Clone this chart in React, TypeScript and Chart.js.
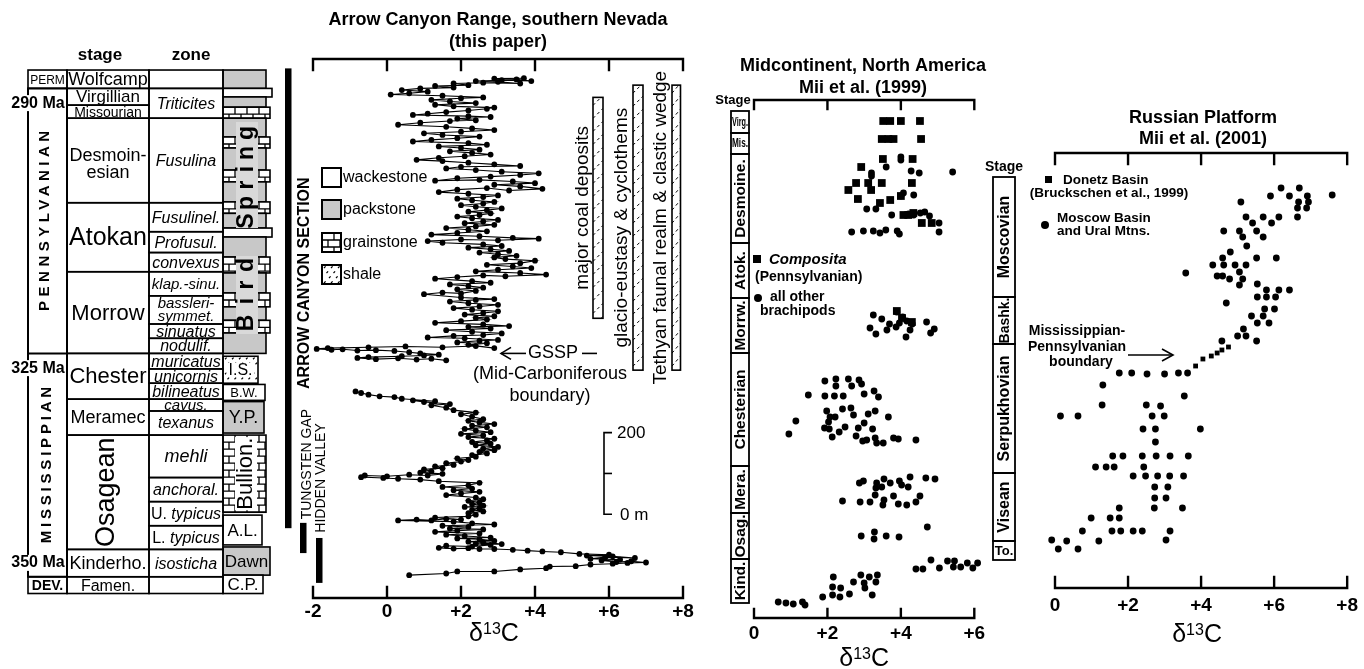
import React, { useEffect, useRef } from 'react';
import { Chart, registerables } from 'chart.js';

Chart.register(...registerables);

const FONT = '"Liberation Sans", Arial, Helvetica, sans-serif';
const GRAY = '#c8c8c8';
const LIGHT = '#d9d9d9';

/* ===== Arrow Canyon Range (δ13C ‰, stratigraphic height m) ===== */
const arrowTitle = ['Arrow Canyon Range, southern Nevada', '(this paper)'];
const arrowTicks = [-2, 0, 2, 4, 6, 8];
const mississippianSamples = [
  [0.6, 36], [1.6, 40], [1.9, 45], [2.9, 45], [3.6, 50], [4.3, 53], [4.4, 57], [5.1, 58], [5.5, 62], [6.1, 64],
  [6.5, 66], [7.0, 67], [6.6, 70], [6.2, 68], [5.8, 72], [6.3, 74], [5.5, 76], [5.9, 80], [6.7, 78], [6.1, 82],
  [5.4, 84], [6.0, 86], [5.2, 88], [4.7, 92], [4.2, 94], [3.8, 96], [3.4, 98], [2.9, 100], [2.5, 100], [2.2, 102],
  [1.8, 101], [1.4, 103], [1.6, 108], [2.3, 106], [2.8, 110], [2.4, 113], [3.1, 112], [2.6, 116], [2.2, 118], [2.9, 120],
  [2.5, 124], [1.9, 126], [2.8, 128], [2.1, 132], [1.6, 135], [2.5, 138], [1.3, 142], [1.9, 145], [2.6, 148], [1.7, 150],
  [2.2, 154], [1.5, 157], [2.9, 160], [2.3, 163], [1.8, 167], [0.3, 170], [0.8, 172], [1.2, 170], [1.6, 174], [2.0, 172],
  [1.3, 177], [2.2, 180], [2.4, 184], [2.2, 188], [2.6, 192], [2.3, 196], [2.5, 200], [2.1, 203], [2.6, 206], [2.3, 210],
  [2.5, 214], [2.2, 218], [2.6, 222], [2.4, 226], [1.6, 232], [2.0, 236], [2.5, 240], [1.8, 244], [2.3, 248], [1.5, 252],
  [2.2, 256], [2.5, 262], [1.4, 266], [0.9, 270], [0.3, 272], [-0.1, 274], [-0.7, 276], [-0.6, 280], [0.0, 278], [0.6, 282],
  [1.1, 280], [1.5, 284], [0.9, 287], [1.2, 290], [1.0, 295], [1.5, 298], [1.3, 302], [1.8, 306], [1.6, 310], [2.0, 314],
  [2.2, 318], [1.9, 322], [2.4, 326], [2.3, 330], [2.7, 334], [2.5, 338], [2.9, 342], [2.6, 346], [3.0, 350], [2.4, 354],
  [2.8, 358], [2.3, 362], [2.7, 366], [2.9, 370], [2.2, 374], [2.6, 378], [2.0, 382], [2.8, 386], [2.4, 390], [2.1, 394],
  [2.7, 398], [2.3, 402], [2.9, 406], [2.5, 410], [2.2, 414], [2.6, 418], [2.3, 424], [2.0, 430], [2.4, 434], [1.8, 440],
  [1.6, 446], [1.2, 452], [1.7, 455], [1.0, 460], [0.7, 464], [1.3, 462], [0.4, 468], [0.2, 472], [-0.2, 474], [-0.5, 478],
  [-0.7, 482], [-0.85, 486],
];
const pennsylvanianSamples = [
  [1.6, 562], [1.2, 566], [0.8, 564], [0.3, 567], [-0.3, 565], [-0.8, 568], [-0.5, 570], [0.4, 572], [1.0, 574], [1.4, 576],
  [0.9, 579], [0.6, 582], [0.2, 585], [-0.3, 587], [-0.8, 586], [-1.2, 589], [-1.5, 588], [-1.9, 590], [-1.6, 592], [-0.5, 594],
  [0.5, 596], [1.5, 594], [2.4, 597], [2.9, 592], [2.2, 600], [2.7, 604], [1.9, 606], [2.5, 610], [3.0, 612], [2.1, 616],
  [1.1, 618], [1.8, 622], [2.6, 624], [3.1, 628], [2.3, 632], [1.6, 636], [2.8, 640], [2.2, 644], [3.3, 646], [2.6, 650],
  [1.3, 654], [2.0, 658], [2.7, 662], [2.4, 666], [2.9, 670], [2.1, 674], [2.6, 678], [3.0, 682], [2.3, 686], [1.8, 690],
  [2.5, 694], [3.0, 698], [2.2, 702], [1.7, 706], [2.4, 710], [2.9, 712], [2.0, 716], [1.0, 724], [1.5, 728], [2.0, 726],
  [2.4, 732], [1.9, 736], [2.6, 740], [2.2, 744], [1.7, 748], [2.8, 752], [2.3, 756], [1.3, 762], [1.9, 766], [2.6, 770],
  [3.2, 768], [4.3, 772], [3.6, 776], [2.4, 780], [3.0, 784], [3.9, 788], [3.4, 792], [2.7, 796], [3.6, 800], [4.0, 806],
  [3.2, 810], [2.9, 814], [3.5, 818], [3.0, 822], [2.5, 826], [3.3, 830], [2.8, 834], [2.2, 838], [3.1, 842], [2.6, 846],
  [1.5, 850], [1.1, 854], [2.0, 858], [3.0, 856], [4.1, 860], [3.4, 862], [2.5, 866], [1.2, 870], [1.9, 874], [2.7, 878],
  [2.2, 882], [1.6, 886], [2.4, 890], [2.9, 894], [2.1, 898], [2.6, 902], [3.0, 906], [2.3, 910], [1.9, 914], [2.5, 918],
  [2.8, 922], [2.2, 926], [2.7, 930], [3.1, 934], [2.4, 938], [2.0, 942], [2.6, 946], [2.9, 950], [2.3, 954], [1.9, 958],
  [2.6, 962], [3.0, 966], [2.2, 970], [1.4, 974], [1.9, 980], [2.7, 984], [3.3, 978], [4.2, 982], [3.6, 988], [2.9, 992],
  [4.0, 996], [3.4, 1000], [2.5, 1004], [1.3, 1002], [1.9, 1008], [2.8, 1012], [3.6, 1016], [4.1, 1020], [3.1, 1024], [2.4, 1028],
  [1.6, 1032], [2.0, 1036], [3.6, 1038], [2.9, 1042], [2.2, 1046], [1.5, 1050], [0.8, 1053], [1.4, 1058], [2.1, 1062], [2.8, 1066],
  [2.3, 1070], [1.7, 1074], [2.5, 1078], [2.0, 1082], [1.4, 1086], [2.7, 1090], [2.2, 1094], [0.7, 1098], [1.2, 1102], [1.9, 1106],
  [2.5, 1110], [1.5, 1114], [1.0, 1118], [2.0, 1122], [2.9, 1126], [2.3, 1130], [1.6, 1134], [0.3, 1139], [0.9, 1144], [1.7, 1148],
  [2.4, 1150], [1.9, 1154], [2.8, 1158], [2.2, 1160], [0.7, 1163], [1.1, 1166], [1.6, 1170], [2.2, 1174], [2.7, 1178], [2.9, 1181],
  [1.8, 1184], [1.3, 1188], [2.4, 1192], [1.7, 1196], [1.2, 1200], [2.0, 1204], [2.6, 1206], [1.5, 1210], [0.1, 1213], [0.6, 1216],
  [1.1, 1220], [0.4, 1224], [0.9, 1228], [1.8, 1230], [1.3, 1234], [2.2, 1236], [1.8, 1240], [2.6, 1242], [3.6, 1240], [3.0, 1244],
  [2.4, 1246], [3.1, 1248], [3.9, 1246], [3.5, 1250], [2.9, 1252], [3.7, 1253],
];

/* stratigraphic column (heights in m of the Arrow Canyon section) */
const periodNames = ['PERM', 'PENNSYLVANIAN', 'MISSISSIPPIAN', 'DEV.'];
const periodBounds = [1273, 1228, 579, 32, -9];
const ageLabels = ['290 Ma', '325 Ma', '350 Ma'];
const ageHeights = [1192, 543, 66];
const stageNames = [['Wolfcamp'], ['Virgillian'], ['Missourian'], ['Desmoin-', 'esian'], ['Atokan'], ['Morrow'], ['Chester'], ['Meramec'], ['Osagean'], ['Kinderho.'], ['Famen.']];
const stageBounds = [1273, 1228, 1187, 1155, 948, 779, 579, 467, 379, 99, 32, -9];
const zoneNames = [[''], ['Triticites'], ['Fusulina'], ['Fusulinel.'], ['Profusul.'], ['convexus'], ['klap.-sinu.'], ['bassleri-', 'symmet.'], ['sinuatus'], ['nodulif.'], ['muricatus'], ['unicornis'], ['bilineatus'], ['cavus.'], ['texanus'], ['mehli'], ['anchoral.'], ['U. typicus'], ['L. typicus'], ['isosticha'], ['']];
const zoneBounds = [1273, 1228, 1155, 948, 877, 826, 779, 720, 651, 616, 579, 541, 506, 467, 438, 379, 275, 216, 157, 99, 32, -9];
const lithologyTypes = ['p', 'w', 'p', 'g', 'p', 'g', 'p', 'g', 'p', 'g', 'p', 'w', 'p', 'g', 'p', 'g', 'p', 'g', 'p'];
const lithologyBounds = [1273, 1228, 1207, 1182, 1155, 1109, 1082, 1028, 999, 950, 922, 886, 864, 815, 776, 727, 693, 660, 629, 579];
const formationNames = ['I.S.', 'B.W.', 'Y.P.', 'Bullion.', 'A.L.', 'Dawn', 'C.P.'];
const formationTops = [572, 503, 461, 379, 183, 105, 36];
const formationBases = [506, 464, 384, 190, 110, 36, -9];
const formationLithology = ['s', 'w', 'p', 'g', 'w', 'p', 'w'];
const sectionNames = ['ARROW CANYON SECTION', 'TUNGSTEN GAP', 'HIDDEN VALLEY'];
const sectionTops = [1277, 164, 127];
const sectionBases = [151, 90, 17];
const realmNames = ['major coal deposits', 'glacio-eustasy & cyclothems', 'Tethyan faunal realm & clastic wedge'];
const realmTops = [1206, 1236, 1236];
const realmBases = [665, 538, 538];
const lithologyLegend = ['wackestone', 'packstone', 'grainstone', 'shale'];
const scaleBarLabels = ['0 m', '200'];
const scaleBarLength = 200;

/* ===== Midcontinent (δ13C ‰, relative stratigraphic position) ===== */
const midTitle = ['Midcontinent, North America', 'Mii et al. (1999)'];
const midTicks = [0, 2, 4, 6];
const midStageNames = ['Virg.', 'Mis.', 'Desmoine.', 'Atok.', 'Morrw.', 'Chesterian', 'Mera.', 'Osag.', 'Kind.'];
const midStageBounds = [507, 485, 464, 375, 320, 265, 152, 105, 59, 15];
const midLegend = ['Composita', '(Pennsylvanian)', 'all other', 'brachipods'];
const midComposita = [
  [3.52, 497], [3.71, 497], [4.0, 497], [4.52, 497], [3.48, 479], [3.66, 479], [3.8, 479], [4.55, 479],
  [3.51, 459], [4.32, 459], [2.92, 451], [2.78, 435], [3.11, 435], [3.48, 435], [4.3, 435], [2.57, 428],
  [3.19, 428], [2.83, 419], [3.71, 418], [3.43, 415], [4.0, 422], [4.07, 403], [4.2, 403], [4.34, 405],
  [4.57, 395], [4.84, 395], [3.89, 307], [4.03, 300], [4.3, 296],
];
const midOtherBrachiopods = [
  [3.6, 451], [4.0, 461], [4.0, 458], [3.2, 445], [3.2, 442], [4.28, 447], [4.5, 445], [5.41, 446],
  [4.07, 425], [4.0, 422], [4.35, 423], [3.07, 409], [3.32, 409], [3.75, 403], [4.21, 404], [4.35, 403],
  [4.53, 405], [4.65, 406], [4.78, 402], [5.04, 395], [5.04, 386], [2.66, 386], [2.98, 387], [3.25, 387],
  [3.43, 385], [3.59, 388], [3.9, 387], [3.96, 384],
  [3.25, 303], [3.48, 299], [3.69, 294], [3.89, 306], [4.05, 301], [4.16, 297], [4.31, 294], [4.25, 288],
  [4.7, 296], [4.91, 289], [4.81, 285], [3.16, 290], [3.32, 284], [3.62, 288], [3.87, 291], [4.14, 281], [3.96, 295],
  [1.93, 237], [2.23, 239], [2.23, 232], [2.57, 239], [2.86, 238], [2.93, 234], [2.66, 232],
  [1.48, 223], [1.93, 222], [2.19, 222], [2.43, 222], [3.0, 224], [3.27, 227], [3.39, 221],
  [1.98, 207], [2.07, 201], [2.21, 201], [2.41, 209], [2.64, 210], [2.71, 203], [3.11, 204], [3.3, 207], [3.66, 201],
  [1.14, 197], [2.03, 196], [3.0, 195], [0.95, 184], [1.92, 190], [2.05, 189], [2.32, 186], [2.48, 191], [2.84, 190], [3.23, 189],
  [2.13, 181], [2.78, 182], [2.96, 177], [3.07, 178], [3.3, 180], [3.34, 175], [3.52, 175], [3.8, 180], [3.93, 179], [4.41, 178],
  [2.87, 135], [2.98, 137], [3.34, 135], [3.54, 139], [3.32, 130], [3.48, 131], [3.71, 135], [3.96, 137], [4.02, 133],
  [4.2, 131], [4.25, 141], [4.68, 140], [4.93, 139], [3.3, 123], [3.8, 122], [4.52, 122],
  [2.41, 117], [2.89, 116], [3.16, 116], [3.51, 113], [3.54, 118], [3.93, 114], [4.16, 113], [4.41, 116],
  [2.92, 82], [3.28, 86], [3.27, 79], [3.6, 82], [3.95, 81], [4.72, 91],
  [4.41, 49], [4.6, 49], [4.82, 58], [5.05, 50], [5.27, 57], [5.46, 57], [5.43, 51], [5.63, 51], [5.81, 55], [5.96, 50], [6.09, 55],
  [2.91, 43], [3.14, 41], [3.36, 43], [2.71, 36], [3.0, 35], [3.32, 36], [2.16, 41], [2.14, 31], [2.36, 30], [3.02, 30],
  [3.22, 23], [2.6, 24], [2.14, 23], [2.34, 21], [1.87, 21], [1.32, 16], [1.07, 14], [0.87, 15], [0.66, 16], [1.39, 13],
];

/* ===== Russian Platform (δ13C ‰, relative stratigraphic position) ===== */
const rusTitle = ['Russian Platform', 'Mii et al. (2001)'];
const rusTicks = [0, 2, 4, 6, 8];
const rusStageNames = ['Moscovian', 'Bashk.', 'Serpukhovian', 'Visean', 'To.'];
const rusStageBounds = [411, 291, 244, 115, 47, 28];
const rusLegend = ['Donetz Basin', '(Bruckschen et al., 1999)', 'Moscow Basin', 'and Ural Mtns.'];
const rusBoundaryNote = ['Mississippian-', 'Pennsylvanian', 'boundary'];
const rusDonetz = [[4.75, 241], [4.57, 238], [4.44, 235], [4.28, 232], [4.05, 229], [3.85, 222]];
const rusMoscowUral = [
  [6.19, 400], [6.69, 400], [5.9, 392], [6.42, 392], [7.59, 393], [6.91, 392], [6.94, 386], [6.89, 380], [6.67, 386],
  [6.64, 380], [6.64, 371], [5.09, 386], [5.23, 371], [5.7, 371], [6.13, 371], [5.41, 365], [5.93, 365],
  [4.62, 357], [5.05, 357], [5.52, 357], [5.14, 351], [5.7, 351], [5.25, 342], [4.8, 336], [4.59, 330], [5.52, 330], [6.06, 330],
  [4.32, 323], [4.62, 323], [4.93, 323], [5.23, 323], [5.05, 316], [4.44, 312], [4.59, 312], [4.78, 309], [5.14, 309],
  [5.05, 303], [3.58, 315], [5.54, 304], [5.79, 298], [6.13, 298], [6.42, 298], [5.54, 291], [5.79, 291], [6.04, 291],
  [4.69, 285], [5.74, 279], [6.01, 279], [5.38, 272], [5.7, 272], [5.54, 265], [5.86, 265], [5.16, 259], [5.0, 252],
  [5.23, 252], [5.52, 247], [4.57, 247],
  [1.76, 215], [2.1, 215], [2.52, 214], [3.0, 214], [3.38, 215], [3.63, 215], [1.31, 203], [3.54, 192], [1.29, 183],
  [2.5, 183], [2.89, 182], [-0.78, 172], [-0.33, 172], [0.15, 172], [0.63, 172], [2.66, 172], [2.99, 172],
  [2.41, 159], [2.75, 159], [3.98, 159], [2.75, 146], [-0.23, 132], [1.58, 132], [1.86, 132], [2.39, 132], [2.77, 132],
  [3.15, 132], [3.65, 132], [1.11, 121], [1.4, 121], [1.62, 121], [2.43, 121], [2.14, 112], [2.48, 112], [2.81, 112],
  [3.14, 112], [3.52, 112], [2.73, 101], [3.09, 101], [2.73, 90], [3.04, 90], [1.76, 80], [2.72, 80], [3.49, 80],
  [0.99, 70], [1.51, 70], [1.76, 70], [0.75, 57], [1.56, 57], [1.8, 57], [2.14, 57], [2.39, 57], [3.15, 57],
  [-0.09, 48], [0.32, 47], [1.2, 47], [3.04, 48], [-0.42, 39], [0.09, 39], [0.63, 39],
];

/* ================= drawing helpers ================= */
type TOpt = { size: number; weight?: string; style?: string; align?: CanvasTextAlign; rot?: number; spacing?: number; maxW?: number };
function label(ctx: CanvasRenderingContext2D, s: string, x: number, y: number, o: TOpt) {
  ctx.save();
  ctx.translate(x, y);
  if (o.rot) ctx.rotate(o.rot);
  ctx.font = `${o.style || 'normal'} ${o.weight || 'normal'} ${o.size}px ${FONT}`;
  (ctx as any).letterSpacing = `${o.spacing || 0}px`;
  const align = o.align || 'center';
  ctx.textAlign = align;
  ctx.textBaseline = 'middle';
  ctx.fillStyle = '#000';
  const dx = align === 'center' && o.spacing ? o.spacing / 2 : 0;
  if (o.maxW) ctx.fillText(s, dx, 0, o.maxW);
  else ctx.fillText(s, dx, 0);
  ctx.restore();
}
const UP = -Math.PI / 2;

function bricks(ctx: CanvasRenderingContext2D, x0: number, x1: number, t: number, b: number) {
  const rowH = 7, bw = 12;
  ctx.save();
  ctx.beginPath();
  ctx.rect(x0, t, x1 - x0, b - t);
  ctx.clip();
  ctx.beginPath();
  for (let yy = t + rowH; yy < b; yy += rowH) { ctx.moveTo(x0, yy); ctx.lineTo(x1, yy); }
  let row = 0;
  for (let yy = t; yy < b; yy += rowH, row++) {
    for (let xx = x0 + (row % 2 ? bw / 2 : bw); xx < x1; xx += bw) { ctx.moveTo(xx, yy); ctx.lineTo(xx, yy + rowH); }
  }
  ctx.lineWidth = 1.3;
  ctx.stroke();
  ctx.restore();
}
function speckle(ctx: CanvasRenderingContext2D, x0: number, x1: number, t: number, b: number) {
  ctx.save();
  ctx.beginPath();
  ctx.rect(x0, t, x1 - x0, b - t);
  ctx.clip();
  ctx.beginPath();
  let k = 0;
  for (let yy = t + 3; yy < b; yy += 5, k++) {
    for (let xx = x0 + 2 + (k % 3) * 2.5; xx < x1; xx += 7) { ctx.moveTo(xx, yy); ctx.lineTo(xx + 1.6, yy - 1.6); }
  }
  ctx.lineWidth = 1.2;
  ctx.stroke();
  ctx.restore();
}
function lithoBox(ctx: CanvasRenderingContext2D, type: string, x0: number, x1: number, t: number, b: number) {
  ctx.fillStyle = type === 'p' ? GRAY : '#fff';
  ctx.fillRect(x0, t, x1 - x0, b - t);
  if (type === 'g') bricks(ctx, x0, x1, t, b);
  if (type === 's') speckle(ctx, x0, x1, t, b);
  ctx.lineWidth = 1.6;
  ctx.strokeRect(x0, t, x1 - x0, b - t);
}
function hatchBox(ctx: CanvasRenderingContext2D, x: number, t: number, w: number, h: number) {
  ctx.fillStyle = '#fff';
  ctx.fillRect(x, t, w, h);
  ctx.save();
  ctx.beginPath();
  ctx.rect(x, t, w, h);
  ctx.clip();
  ctx.beginPath();
  ctx.setLineDash([3, 3]);
  for (let yy = t + 4; yy < t + h + 12; yy += 13) { ctx.moveTo(x, yy + 4); ctx.lineTo(x + w, yy - 6); }
  ctx.lineWidth = 1;
  ctx.stroke();
  ctx.restore();
  ctx.lineWidth = 1.6;
  ctx.strokeRect(x, t, w, h);
}
function seg(ctx: CanvasRenderingContext2D, pts: number[][]) {
  ctx.beginPath();
  ctx.moveTo(pts[0][0], pts[0][1]);
  for (let i = 1; i < pts.length; i++) ctx.lineTo(pts[i][0], pts[i][1]);
  ctx.stroke();
}
function deltaLabel(ctx: CanvasRenderingContext2D, cx: number, cy: number) {
  ctx.save();
  ctx.fillStyle = '#000';
  ctx.textBaseline = 'alphabetic';
  ctx.textAlign = 'left';
  const big = `normal normal 25px ${FONT}`, small = `normal normal 16px ${FONT}`;
  ctx.font = big;
  const wd = ctx.measureText('δ').width, wc = ctx.measureText('C').width;
  ctx.font = small;
  const w13 = ctx.measureText('13').width;
  let x = cx - (wd + w13 + wc) / 2;
  const base = cy + 9;
  ctx.font = big;
  ctx.fillText('δ', x, base);
  x += wd;
  ctx.font = small;
  ctx.fillText('13', x, base - 7);
  x += w13;
  ctx.font = big;
  ctx.fillText('C', x, base);
  ctx.restore();
}

const LITH_RIGHT: Record<string, number> = { w: 272, p: 266, g: 270, s: 258 };
const FORMATION_RIGHT = [258, 265, 264, 266, 262, 270, 263];
const FORMATION_FONT = [16, 13, 18, 22, 17, 17, 17];
const STAGE_FONT = [18, 17, 14, 18, 25, 22, 22, 18, 27, 18, 16];
const ZONE_FONT: Record<string, number> = { mehli: 18, 'klap.-sinu.': 15, 'bassleri-': 15, 'symmet.': 15, 'cavus.': 15 };

function drawColumn(ctx: CanvasRenderingContext2D, Y: (m: number) => number) {
  const P0 = 28, P1 = 67, S1 = 149, Z1 = 223;
  ctx.strokeStyle = '#000';
  for (let i = 0; i < lithologyTypes.length; i++) {
    const tp = lithologyTypes[i];
    lithoBox(ctx, tp, Z1, LITH_RIGHT[tp], Y(lithologyBounds[i]), Y(lithologyBounds[i + 1]));
  }
  ctx.fillStyle = LIGHT;
  ctx.fillRect(236, 122, 22, 106);
  ctx.fillRect(236, 256, 22, 78);
  const springY = [221, 203, 185, 169, 153, 133];
  'Spring'.split('').forEach((c, i) => label(ctx, c, 247, springY[i], { size: 23, weight: 'bold', rot: UP }));
  const birdY = [323, 301, 285, 265];
  'Bird'.split('').forEach((c, i) => label(ctx, c, 247, birdY[i], { size: 23, weight: 'bold', rot: UP }));
  for (let i = 0; i < formationNames.length; i++) {
    const t = Y(formationTops[i]), b = Y(formationBases[i]);
    const r = FORMATION_RIGHT[i];
    lithoBox(ctx, formationLithology[i], Z1, r, t, b);
    const cx = (Z1 + r) / 2, cy = (t + b) / 2;
    if (formationNames[i] === 'Bullion.') {
      ctx.fillStyle = '#fff';
      ctx.fillRect(235, t + 2, 22, b - t - 4);
      label(ctx, formationNames[i], 246, cy, { size: FORMATION_FONT[i], rot: UP });
    } else {
      if (formationLithology[i] === 's') { ctx.fillStyle = '#fff'; ctx.fillRect(cx - 14, cy - 7, 28, 14); }
      label(ctx, formationNames[i], cx, cy + 1, { size: FORMATION_FONT[i] });
    }
  }
  ctx.lineWidth = 1.6;
  for (let i = 0; i < stageNames.length; i++) {
    const t = Y(stageBounds[i]), b = Y(stageBounds[i + 1]);
    ctx.strokeRect(P1, t, S1 - P1, b - t);
    const lines = stageNames[i];
    const cx = (P1 + S1) / 2, cy = (t + b) / 2;
    if (lines[0] === 'Osagean') label(ctx, lines[0], cx - 1, cy, { size: STAGE_FONT[i], rot: UP });
    else if (lines.length === 2) {
      label(ctx, lines[0], cx, cy - 4, { size: STAGE_FONT[i] });
      label(ctx, lines[1], cx, cy + 13, { size: STAGE_FONT[i] });
    } else label(ctx, lines[0], cx, cy + 1, { size: STAGE_FONT[i] });
  }
  for (let i = 0; i < zoneNames.length; i++) {
    const t = Y(zoneBounds[i]), b = Y(zoneBounds[i + 1]);
    ctx.strokeRect(S1, t, Z1 - S1, b - t);
    const lines = zoneNames[i];
    const cx = (S1 + Z1) / 2, cy = (t + b) / 2;
    lines.forEach((s, k) => {
      if (!s) return;
      const yy = lines.length === 2 ? cy + (k === 0 ? -6 : 7) : cy + 1;
      const size = ZONE_FONT[s] || 16;
      const m = /^([UL]\. )(.*)$/.exec(s);
      if (m) {
        ctx.font = `normal normal ${size}px ${FONT}`;
        const w1 = ctx.measureText(m[1]).width;
        ctx.font = `italic normal ${size}px ${FONT}`;
        const w2 = ctx.measureText(m[2]).width;
        const x0 = cx - (w1 + w2) / 2;
        label(ctx, m[1], x0, yy, { size, align: 'left' });
        label(ctx, m[2], x0 + w1, yy, { size, style: 'italic', align: 'left' });
      } else label(ctx, s, cx, yy, { size, style: 'italic' });
    });
  }
  const tPerm = Y(periodBounds[0]), bPerm = Y(periodBounds[1]);
  ctx.strokeRect(P0, tPerm, P1 - P0, bPerm - tPerm);
  label(ctx, periodNames[0], (P0 + P1) / 2, (tPerm + bPerm) / 2 + 1, { size: 12 });
  ctx.lineWidth = 2;
  ctx.strokeRect(P0, bPerm, P1 - P0, Y(periodBounds[3]) - bPerm);
  seg(ctx, [[P0, Y(periodBounds[2])], [P1, Y(periodBounds[2])]]);
  label(ctx, periodNames[1], 45, (bPerm + Y(periodBounds[2])) / 2, { size: 15, weight: 'bold', rot: UP, spacing: 4.5 });
  label(ctx, periodNames[2], 47, (Y(periodBounds[2]) + Y(periodBounds[3])) / 2, { size: 15, weight: 'bold', rot: UP, spacing: 3.8 });
  ctx.lineWidth = 1.6;
  const tDev = Y(periodBounds[3]), bDev = Y(periodBounds[4]);
  ctx.strokeRect(P0, tDev, P1 - P0, bDev - tDev);
  label(ctx, periodNames[3], (P0 + P1) / 2, (tDev + bDev) / 2 + 1, { size: 14, weight: 'bold' });
  ageLabels.forEach((s, i) => {
    const yy = Y(ageHeights[i]);
    ctx.fillStyle = '#fff';
    ctx.fillRect(10, yy - 8, 55, 16);
    label(ctx, s, 38, yy, { size: 16, weight: 'bold' });
  });
  label(ctx, 'stage', 100, 55, { size: 17, weight: 'bold' });
  label(ctx, 'zone', 191, 55, { size: 17, weight: 'bold' });
}

const arrowDecor = {
  id: 'arrowDecor',
  afterDraw(chart: any) {
    const ctx: CanvasRenderingContext2D = chart.ctx;
    const Y = (m: number) => chart.scales.y.getPixelForValue(m);
    ctx.save();
    drawColumn(ctx, Y);
    const sx = [285, 300, 316];
    const sLabel = [[305, 751, 16, 'bold'], [307, 308, 14, 'normal'], [321, 274, 14, 'normal']];
    sectionNames.forEach((s, i) => {
      ctx.fillStyle = '#000';
      ctx.fillRect(sx[i], Y(sectionTops[i]), 6.5, Y(sectionBases[i]) - Y(sectionTops[i]));
      const [lx, lm, fs, fw] = sLabel[i] as any;
      label(ctx, s, lx, Y(lm), { size: fs, weight: fw, rot: UP });
    });
    const ly = [168, 200, 233, 265];
    lithologyLegend.forEach((s, i) => {
      const tp = ['w', 'p', 'g', 's'][i];
      lithoBox(ctx, tp, 322, 341, ly[i], ly[i] + 19);
      ctx.lineWidth = 2;
      ctx.strokeRect(322, ly[i], 19, 19);
      label(ctx, s, 343, ly[i] + 10, { size: 16, align: 'left' });
    });
    const rx = [593, 633, 672], rw = [10, 10, 8.5], rtx = [583, 622, 661];
    realmNames.forEach((s, i) => {
      const t = Y(realmTops[i]), b = Y(realmBases[i]);
      hatchBox(ctx, rx[i], t, rw[i], b - t);
      label(ctx, s, rtx[i], (t + b) / 2, { size: 19, rot: UP });
    });
    const gy = Y(periodBounds[2]);
    ctx.lineWidth = 1.6;
    ctx.strokeStyle = '#000';
    seg(ctx, [[526, gy], [501, gy]]);
    seg(ctx, [[511, gy - 6], [501, gy], [511, gy + 6]]);
    label(ctx, 'GSSP', 528, gy, { size: 18, align: 'left' });
    seg(ctx, [[582, gy], [597, gy]]);
    label(ctx, '(Mid-Carboniferous', 550, gy + 21, { size: 18 });
    label(ctx, 'boundary)', 550, gy + 43, { size: 18 });
    const base = 185;
    const y0 = Y(base), y1 = Y(base + scaleBarLength), ym = Y(base + scaleBarLength / 2);
    seg(ctx, [[612, y1], [604, y1], [604, y0], [612, y0]]);
    seg(ctx, [[604, ym], [612, ym]]);
    label(ctx, scaleBarLabels[1], 617, y1 + 1, { size: 17, align: 'left' });
    label(ctx, scaleBarLabels[0], 620, y0 + 1, { size: 17, align: 'left' });
    ctx.restore();
  },
};

const axisFrame = {
  id: 'axisFrame',
  afterDraw(chart: any, _a: any, opts: any) {
    const ctx: CanvasRenderingContext2D = chart.ctx;
    const a = chart.chartArea;
    const sx = chart.scales.x;
    const tick = opts.tick || 10;
    const x0 = sx.getPixelForValue(sx.min), x1 = sx.getPixelForValue(sx.max);
    ctx.save();
    ctx.strokeStyle = '#000';
    ctx.lineWidth = 2.4;
    ctx.lineCap = 'square';
    ctx.beginPath();
    ctx.moveTo(x0, a.top); ctx.lineTo(x1, a.top);
    ctx.moveTo(x0, a.bottom); ctx.lineTo(x1, a.bottom);
    for (const t of sx.ticks) {
      const p = sx.getPixelForValue(t.value);
      ctx.moveTo(p, a.top); ctx.lineTo(p, a.top + tick);
      ctx.moveTo(p, a.bottom); ctx.lineTo(p, a.bottom - tick);
    }
    ctx.stroke();
    ctx.restore();
    deltaLabel(ctx, (x0 + x1) / 2 + (opts.titleDx || 0), opts.titleY);
    if (opts.heading) {
      const [l1, l2] = opts.heading as string[];
      label(ctx, l1, opts.headingX, opts.headingY[0], { size: opts.headingSize, weight: 'bold' });
      label(ctx, l2, opts.headingX, opts.headingY[1], { size: opts.headingSize, weight: 'bold' });
    }
  },
};

const midDecor = {
  id: 'midDecor',
  afterDraw(chart: any) {
    const ctx: CanvasRenderingContext2D = chart.ctx;
    const Y = (v: number) => chart.scales.y.getPixelForValue(v);
    ctx.save();
    ctx.strokeStyle = '#000';
    ctx.lineWidth = 1.8;
    const x0 = 731, x1 = 749;
    label(ctx, 'Stage', 733, 100, { size: 13, weight: 'bold' });
    midStageNames.forEach((s, i) => {
      const t = Y(midStageBounds[i]), b = Y(midStageBounds[i + 1]);
      ctx.strokeRect(x0, t, x1 - x0, b - t);
      if (i < 2) label(ctx, s, (x0 + x1) / 2, (t + b) / 2, { size: 13, weight: 'bold', maxW: 16 });
      else label(ctx, s, (x0 + x1) / 2 + 1, (t + b) / 2, { size: 15.5, weight: 'bold', rot: UP });
    });
    ctx.fillStyle = '#000';
    ctx.fillRect(753, 255, 8, 8);
    label(ctx, midLegend[0], 769, 260, { size: 15, weight: 'bold', style: 'italic', align: 'left' });
    label(ctx, midLegend[1], 755, 277, { size: 14, weight: 'bold', align: 'left' });
    ctx.beginPath();
    ctx.arc(758, 298, 4, 0, Math.PI * 2);
    ctx.fill();
    label(ctx, midLegend[2], 770, 297, { size: 14, weight: 'bold', align: 'left' });
    label(ctx, midLegend[3], 760, 311, { size: 14, weight: 'bold', align: 'left' });
    ctx.restore();
  },
};

const rusDecor = {
  id: 'rusDecor',
  afterDraw(chart: any) {
    const ctx: CanvasRenderingContext2D = chart.ctx;
    const Y = (v: number) => chart.scales.y.getPixelForValue(v);
    ctx.save();
    ctx.strokeStyle = '#000';
    ctx.lineWidth = 1.8;
    const x0 = 993, x1 = 1015;
    label(ctx, 'Stage', 1004, 167, { size: 14, weight: 'bold' });
    rusStageNames.forEach((s, i) => {
      const t = Y(rusStageBounds[i]), b = Y(rusStageBounds[i + 1]);
      ctx.strokeRect(x0, t, x1 - x0, b - t);
      if (s === 'To.') label(ctx, s, (x0 + x1) / 2, (t + b) / 2 + 1, { size: 13, weight: 'bold' });
      else label(ctx, s, (x0 + x1) / 2 + 1, (t + b) / 2, { size: s === 'Bashk.' ? 14 : 16, weight: 'bold', rot: UP });
    });
    ctx.fillStyle = '#000';
    ctx.fillRect(1045, 176, 7, 7);
    label(ctx, rusLegend[0], 1063, 180, { size: 13.5, weight: 'bold', align: 'left' });
    label(ctx, rusLegend[1], 1109, 193, { size: 13.5, weight: 'bold' });
    ctx.beginPath();
    ctx.arc(1045, 225, 4, 0, Math.PI * 2);
    ctx.fill();
    label(ctx, rusLegend[2], 1057, 218, { size: 13.5, weight: 'bold', align: 'left' });
    label(ctx, rusLegend[3], 1057, 231, { size: 13.5, weight: 'bold', align: 'left' });
    label(ctx, rusBoundaryNote[0], 1077, 331, { size: 14, weight: 'bold' });
    label(ctx, rusBoundaryNote[1], 1077, 347, { size: 14, weight: 'bold' });
    label(ctx, rusBoundaryNote[2], 1081, 362, { size: 14, weight: 'bold' });
    ctx.lineWidth = 1.6;
    seg(ctx, [[1128, 355], [1172, 355]]);
    seg(ctx, [[1162, 349], [1173, 355], [1162, 361]]);
    ctx.restore();
  },
};

/* ================= chart configs ================= */
const pts = (arr: number[][]) => arr.map(([x, y]) => ({ x, y }));
const fmt = (v: any) => (v > 0 ? '+' + v : String(v));

function xScale(min: number, max: number, ticks: number[], pad: number, height: number) {
  return {
    type: 'linear',
    position: 'bottom',
    min,
    max,
    afterBuildTicks: (s: any) => { s.ticks = ticks.map((v) => ({ value: v })); },
    grid: { display: false, drawTicks: false },
    border: { display: false },
    ticks: { padding: pad, color: '#000', font: { size: 19, weight: 'bold', family: FONT }, callback: fmt, maxRotation: 0, autoSkip: false },
    title: { display: false, text: 'δ13C' },
    afterFit: (s: any) => { s.height = height; },
  };
}
function titleOpt(text: string[], size: number, lh: number, top: number, bottom: number) {
  return { display: true, text, color: '#000', font: { size, weight: 'bold', family: FONT, lineHeight: lh / size }, padding: { top, bottom } };
}
const base = { responsive: false, animation: false, events: [] as any[] };

function arrowConfig(): any {
  const ds = (d: number[][]) => ({ data: pts(d), showLine: true, borderColor: '#000', borderWidth: 1.1, pointRadius: 2.9, pointBackgroundColor: '#000', pointBorderWidth: 0, clip: false });
  return {
    type: 'scatter',
    data: { datasets: [ds(mississippianSamples), ds(pennsylvanianSamples)] },
    options: {
      ...base,
      layout: { padding: { left: 313, right: 681, top: 0, bottom: 0 } },
      plugins: { legend: { display: false }, tooltip: { enabled: false }, title: titleOpt(arrowTitle, 18, 22, 9, 6), axisFrame: { tick: 11, titleY: 632, titleDx: -4 } },
      scales: { x: xScale(-2, 8, arrowTicks, 2, 71), y: { type: 'linear', min: -20, max: 1300, display: false } },
    },
    plugins: [axisFrame, arrowDecor],
  };
}
function midConfig(): any {
  return {
    type: 'scatter',
    data: {
      datasets: [
        { data: pts(midComposita), pointStyle: 'rect', pointRadius: 5.5, pointBackgroundColor: '#000', pointBorderWidth: 0, clip: false },
        { data: pts(midOtherBrachiopods), pointStyle: 'circle', pointRadius: 3.4, pointBackgroundColor: '#000', pointBorderWidth: 0, clip: false },
      ],
    },
    options: {
      ...base,
      layout: { padding: { left: 754, right: 389.7, top: 100, bottom: 0 } },
      plugins: {
        legend: { display: false },
        tooltip: { enabled: false },
        title: { display: false },
        axisFrame: { tick: 9, titleY: 657, titleDx: 0, heading: midTitle, headingX: 863, headingY: [66, 88], headingSize: 18 },
      },
      scales: { x: xScale(0, 6, midTicks, 4, 51), y: { type: 'linear', min: 0, max: 518, display: false } },
    },
    plugins: [axisFrame, midDecor],
  };
}
function rusConfig(): any {
  return {
    type: 'scatter',
    data: {
      datasets: [
        { data: pts(rusDonetz), pointStyle: 'rect', pointRadius: 3.4, pointBackgroundColor: '#000', pointBorderWidth: 0, clip: false },
        { data: pts(rusMoscowUral), pointStyle: 'circle', pointRadius: 3.4, pointBackgroundColor: '#000', pointBorderWidth: 0, clip: false },
      ],
    },
    options: {
      ...base,
      layout: { padding: { left: 1055, right: 13, top: 0, bottom: 0 } },
      plugins: { legend: { display: false }, tooltip: { enabled: false }, title: titleOpt(rusTitle, 18, 21, 107.5, 3.5), axisFrame: { tick: 11, titleY: 633, titleDx: -4 } },
      scales: { x: xScale(0, 8, rusTicks, 6, 81), y: { type: 'linear', min: 0, max: 435, display: false } },
    },
    plugins: [axisFrame, rusDecor],
  };
}

function Layer({ make }: { make: () => any }) {
  const ref = useRef<HTMLCanvasElement>(null);
  useEffect(() => {
    const chart = new Chart(ref.current as HTMLCanvasElement, make());
    return () => chart.destroy();
  }, [make]);
  return <canvas ref={ref} width={1364} height={669} style={{ position: 'absolute', left: 0, top: 0, width: 1364, height: 669 }} />;
}

export default function App() {
  return (
    <div style={{ position: 'fixed', left: 0, top: 0, width: 1364, height: 669, background: '#fff', overflow: 'hidden' }}>
      <Layer make={arrowConfig} />
      <Layer make={midConfig} />
      <Layer make={rusConfig} />
    </div>
  );
}
